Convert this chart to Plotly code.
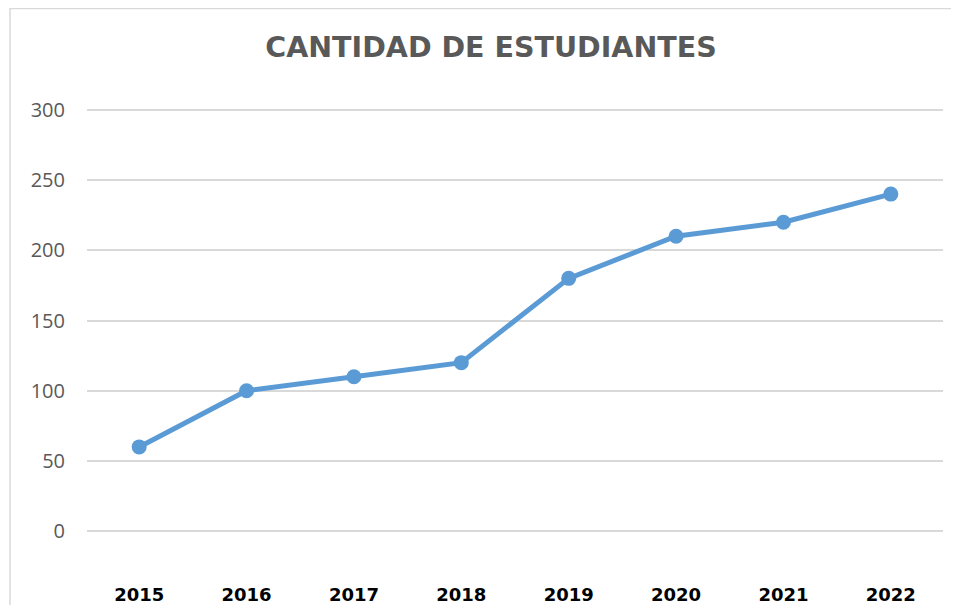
import plotly.graph_objects as go

years = ["2015", "2016", "2017", "2018", "2019", "2020", "2021", "2022"]
students = [60, 100, 110, 120, 180, 210, 220, 240]
y_ticks = [0, 50, 100, 150, 200, 250, 300]
title_text = "CANTIDAD DE ESTUDIANTES"

# The page body has an 8px margin, so the figure is drawn 8px in from the
# window's corner; size it so it still fits the 959x605 window.
OFF = 8
W, H = 959 - OFF, 605 - OFF
# target plot area in window pixels: y=300 at 110, y=0 at 531; x from 87 to 943
pad = 2  # data units of padding so edge gridlines are drawn
ppu = (531 - 110) / 300
L = 87 - OFF
R = W - (943 - OFF)
T = (110 - OFF) - pad * ppu
B = (H - (531 - OFF)) - pad * ppu

fig = go.Figure()
fig.add_trace(go.Scatter(
    x=years, y=students, mode="lines+markers",
    line=dict(color="#5B9BD5", width=5),
    marker=dict(color="#5B9BD5", size=15),
    showlegend=False, hoverinfo="x+y",
))

pw = W - L - R
ph = H - T - B
def px_x(p): return (p - OFF - L) / pw
def px_y(p): return (H - B - (p - OFF)) / ph

fig.update_layout(
    width=W, height=H,
    margin=dict(l=L, r=R, t=T, b=B, autoexpand=False),
    paper_bgcolor="white", plot_bgcolor="white",
    title=dict(text=title_text, x=(491 - OFF) / W, xanchor="center",
               y=1 - (47 - OFF) / H, yanchor="middle",
               font=dict(family="DejaVu Sans, sans-serif", size=28.5, color="#595959", weight="bold")),
    xaxis=dict(type="category", showgrid=False, zeroline=False, showline=False,
               ticks="", ticklabelstandoff=48, automargin=False,
               tickfont=dict(family="DejaVu Sans, sans-serif", size=18, color="#000000", weight="bold")),
    yaxis=dict(range=[-pad, 300 + pad], tickvals=y_ticks, showgrid=True, gridcolor="#D9D9D9",
               gridwidth=1.5, zeroline=False, showline=False, ticks="",
               ticklabelstandoff=21, automargin=False,
               tickfont=dict(family="Open Sans, sans-serif", size=20, color="#595959")),
    shapes=[dict(type="rect", xref="paper", yref="paper",
                 x0=px_x(10), x1=px_x(975), y0=px_y(620), y1=px_y(8.7),
                 line=dict(color="#D9D9D9", width=1.5), fillcolor="rgba(0,0,0,0)",
                 layer="below")],
)

fig.write_html("out.html")
